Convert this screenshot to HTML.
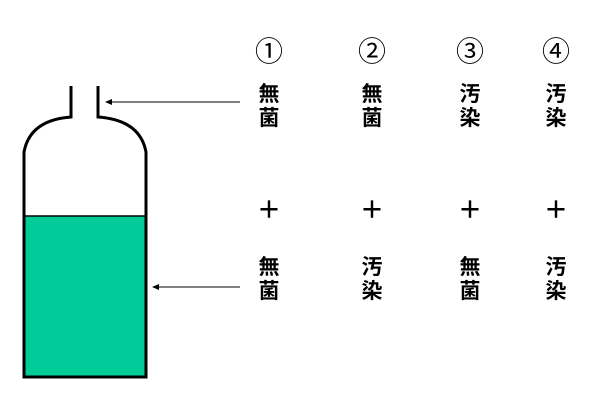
<!DOCTYPE html>
<html><head><meta charset="utf-8"><style>
body{margin:0;width:603px;height:401px;background:#fff;overflow:hidden;position:relative;font-family:"Liberation Sans","Noto Sans CJK JP",sans-serif}
.t{position:absolute;width:40px;margin-left:-20px;text-align:center;font-size:21px;line-height:24px;font-weight:bold;color:#000}
.c{font-weight:normal;font-size:28px;line-height:28px}
.p{font-weight:bold;font-size:24px}
</style></head><body>
<svg width="603" height="401" style="position:absolute;left:0;top:0">
<path d="M24 216 H146 V377 H24 Z" fill="#00cc99"/>
<line x1="24" y1="216" x2="146" y2="216" stroke="#000" stroke-width="1.5"/>
<path d="M71 86 V117 Q30 120 24 152 V377 H146 V152 Q140 120 98 117 V86" fill="none" stroke="#000" stroke-width="3"/>
<line x1="240" y1="102" x2="108" y2="102" stroke="#000" stroke-width="1"/>
<path d="M105 102 L112 99 L112 105 Z"/>
<line x1="240" y1="287" x2="155" y2="287" stroke="#000" stroke-width="1"/>
<path d="M152 287 L159 284 L159 290 Z"/>
</svg>
<div class="t c" style="left:269px;top:38px">①</div>
<div class="t c" style="left:372px;top:38px">②</div>
<div class="t c" style="left:470px;top:38px">③</div>
<div class="t c" style="left:556px;top:38px">④</div>
<div class="t" style="left:269px;top:83px">無<br>菌</div>
<div class="t" style="left:372px;top:83px">無<br>菌</div>
<div class="t" style="left:470px;top:83px">汚<br>染</div>
<div class="t" style="left:556px;top:83px">汚<br>染</div>
<div class="t p" style="left:269px;top:199px">＋</div>
<div class="t p" style="left:372px;top:199px">＋</div>
<div class="t p" style="left:470px;top:199px">＋</div>
<div class="t p" style="left:556px;top:199px">＋</div>
<div class="t" style="left:269px;top:256px">無<br>菌</div>
<div class="t" style="left:372px;top:256px">汚<br>染</div>
<div class="t" style="left:470px;top:256px">無<br>菌</div>
<div class="t" style="left:556px;top:256px">汚<br>染</div>
</body></html>
